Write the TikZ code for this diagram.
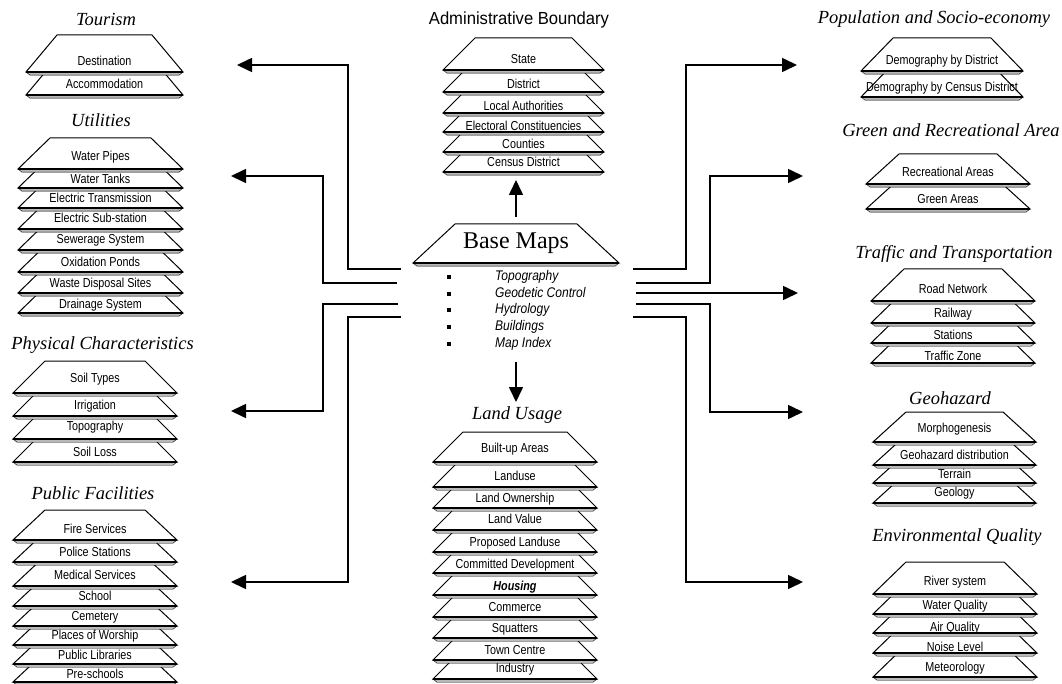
\documentclass[tikz,border=0pt]{standalone}
\usepackage{fontspec}
\setmainfont{Liberation Serif}
\newfontfamily\lab{Liberation Sans}[FakeStretch=0.83]
\newfontfamily\labit{Liberation Sans}[FakeStretch=0.86]
\newfontfamily\labwide{Liberation Sans}[FakeStretch=0.95]
\usetikzlibrary{arrows.meta}
\newcommand\layerdraw[5]{%
 \filldraw[fill=white,line width=1pt] ({#1-#2/2},#5) -- ({#1-#2/2+#4},{#5-#3}) -- ({#1+#2/2-#4},{#5-#3}) -- ({#1+#2/2},#5) -- cycle;
 \filldraw[fill=gray!55,line width=0.4pt] ({#1-#2/2},#5) -- ({#1+#2/2},#5) -- ({#1+#2/2-4},{#5+3.2}) -- ({#1-#2/2+4},{#5+3.2}) -- cycle;
 \draw[line width=1.6pt] ({#1-#2/2},#5) -- ({#1+#2/2},#5);
}
\newcommand\stackdraw[6]{%
 \foreach \lb/\ly/\lt [count=\k] in {#6} {
   \layerdraw{#2}{#3}{#4}{#5}{\lb}
   \node[lbl] (#1-\k) at (#2,\ly) {\lt};
 }}
\tikzset{
 lbl/.style={inner sep=0pt,font=\lab\fontsize{13}{14}\selectfont,text height=9pt,text depth=2.5pt},
 head/.style={inner sep=0pt,font=\fontsize{18.5}{20}\selectfont\itshape,text height=12pt,text depth=4pt},
 arr/.style={line width=1.6pt,-{Triangle[length=15pt,width=14pt]}},
 bul/.style={fill=black,inner sep=0pt,minimum size=4.5pt,draw=none},
 item/.style={inner sep=0pt,anchor=west,font=\labit\fontsize{14}{15}\selectfont\itshape,text height=10pt,text depth=3pt}
}
\begin{document}
\begin{tikzpicture}[x=1pt,y=-1pt]
\useasboundingbox (0,0) rectangle (1062,684);
% headings
\node[head] (hTour) at (106,22) {Tourism};
\node[head] (hUtil) at (101,123) {Utilities};
\node[head] (hPhys) at (102.5,345) {Physical Characteristics};
\node[head] (hPub) at (93,495) {Public Facilities};
\node[inner sep=0pt,font=\labwide\fontsize{17.5}{19}\selectfont,text height=12.5pt,text depth=3.5pt] (hAdm) at (519,20) {Administrative Boundary};
\node[head] (hLand) at (517,415) {Land Usage};
\node[head] (hPop) at (934,20) {Population and Socio-economy};
\node[head] (hGreen) at (951,133) {Green and Recreational Area};
\node[head] (hTraf) at (954,255) {Traffic and Transportation};
\node[head] (hGeo) at (950,400) {Geohazard};
\node[head] (hEnv) at (957,537) {Environmental Quality};
% stacks
\stackdraw{tour}{104.5}{157}{37}{31}{95/85/Accommodation, 72/62/Destination}
\stackdraw{util}{100.5}{165}{31}{32}{313/305/Drainage System, 293/284/Waste Disposal Sites, 272/263/Oxidation Ponds, 250/240/Sewerage System, 229/219/Electric Sub-station, 208/199/Electric Transmission, 188/180/Water Tanks, 169/157/Water Pipes}
\stackdraw{phys}{95}{164}{32}{32}{462/453/Soil Loss, 439/427/Topography, 416/406/Irrigation, 393/379/Soil Types}
\stackdraw{pub}{95}{164}{30}{32}{682/675/Pre-schools, 664/656/Public Libraries, 645/636/Places of Worship, 626/617/Cemetery, 606/597/School, 586/576/Medical Services, 562/553/Police Stations, 540/530/Fire Services}
\stackdraw{adm}{523.5}{161}{32}{32}{172/163/Census District, 152/145/Counties, 132/127/Electoral Constituencies, 113/107/Local Authorities, 92/85/District, 70/60/State}
\stackdraw{land}{515}{164}{30}{30}{679/669/Industry, 660/651/Town Centre, 638/629/Squatters, 617/608/Commerce, 595/587/{\bfseries\itshape Housing}, 573/565/Committed Development, 552/543/Proposed Landuse, 530/520/Land Value, 508/499/Land Ownership, 487/477/Landuse, 462/449/Built-up Areas}
\stackdraw{pop}{942}{162}{33}{32}{97/88/Demography by Census District, 71/61/Demography by District}
\stackdraw{green}{948}{164}{30}{33}{209/200/Green Areas, 184/173/Recreational Areas}
\stackdraw{traf}{953}{164}{32}{33}{363/357/Traffic Zone, 343/336/Stations, 323/314/Railway, 301/290/Road Network}
\stackdraw{geo}{954.5}{163}{30}{33}{503/493/Geology, 483/475/Terrain, 465/456/Geohazard distribution, 442/429/Morphogenesis}
\stackdraw{env}{955}{164}{32}{33}{677/668/Meteorology, 653/648/Noise Level, 633/628/Air Quality, 614/606/Water Quality, 594/582/River system}
% base maps
\layerdraw{516}{206}{39}{42}{263}
\node[inner sep=0pt,font=\fontsize{24}{26}\selectfont,text height=16pt,text depth=5pt] (base) at (516,243) {Base Maps};
\foreach \yy/\tt [count=\i] in {277/Topography, 294/Geodetic Control, 310/Hydrology, 327/Buildings, 344/Map Index} {
  \node[bul] (b\i) at (449,\yy) {};
  \node[item] (it\i) at (495,\yy) {\tt};
}
% coordinates
\coordinate (sTour) at (401,269); \coordinate (tTour) at (237,65);
\coordinate (sUtil) at (397,283); \coordinate (tUtil) at (231,176);
\coordinate (sPhys) at (398,304); \coordinate (tPhys) at (231,411);
\coordinate (sPub) at (401,317); \coordinate (tPub) at (231,582);
\coordinate (sPop) at (633,269); \coordinate (tPop) at (797,65);
\coordinate (sGreen) at (636,283); \coordinate (tGreen) at (803,176);
\coordinate (sTraf) at (636,293); \coordinate (tTraf) at (798,293);
\coordinate (sGeo) at (636,304); \coordinate (tGeo) at (803,412);
\coordinate (sEnv) at (633,317); \coordinate (tEnv) at (803,582);
\coordinate (sUp) at (516,217); \coordinate (tUp) at (516,180);
\coordinate (sDown) at (516,362); \coordinate (tDown) at (516,402);
% connectors
\draw[arr] (sTour) -- (348,269) |- (tTour);
\draw[arr] (sUtil) -- (323,283) |- (tUtil);
\draw[arr] (sPhys) -- (323,304) |- (tPhys);
\draw[arr] (sPub) -- (348,317) |- (tPub);
\draw[arr] (sPop) -- (686,269) |- (tPop);
\draw[arr] (sGreen) -- (710,283) |- (tGreen);
\draw[arr] (sTraf) -- (tTraf);
\draw[arr] (sGeo) -- (710,304) |- (tGeo);
\draw[arr] (sEnv) -- (686,317) |- (tEnv);
\draw[arr] (sUp) -- (tUp);
\draw[arr] (sDown) -- (tDown);
\end{tikzpicture}
\end{document}
